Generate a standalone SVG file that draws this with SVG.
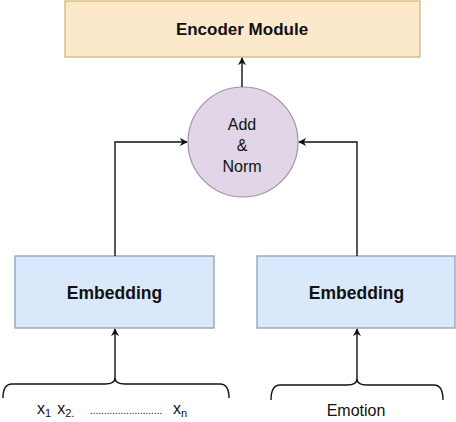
<svg xmlns="http://www.w3.org/2000/svg" width="456" height="422" viewBox="0 0 456 422">
<defs>
<style>
.t{font-family:"Liberation Sans",Arial,sans-serif;fill:#111;text-anchor:middle}
.b{font-weight:bold}
.ln{fill:none;stroke:#111;stroke-width:1.4}
.emb{fill:#dae8fc;stroke:#8497b8;stroke-width:1.2}
</style>
<marker id="ah" viewBox="0 0 10 10" refX="9" refY="5" markerWidth="8" markerHeight="8" markerUnits="userSpaceOnUse" orient="auto">
<path d="M0,0 L10,5 L0,10 L3,5 Z" fill="#111"/>
</marker>
</defs>
<rect width="456" height="422" fill="#fff"/>
<g id="encoder">
<rect x="65" y="1" width="355" height="56" fill="#fce9cc" stroke="#cdb46a" stroke-width="1.2"/>
<text class="t b" x="242" y="35" font-size="17">Encoder Module</text>
</g>
<g id="addnorm">
<circle cx="243" cy="142" r="55" fill="#e1d5e7" stroke="#9e95a3" stroke-width="1.2"/>
<text class="t" x="242" y="130" font-size="16">Add</text>
<text class="t" x="242" y="151" font-size="16">&amp;</text>
<text class="t" x="242" y="172" font-size="16">Norm</text>
</g>
<g id="embedding1">
<rect x="15" y="256" width="199" height="72" class="emb"/>
<text class="t b" x="114.5" y="299" font-size="17.5">Embedding</text>
</g>
<g id="embedding2">
<rect x="257" y="256" width="198" height="72" class="emb"/>
<text class="t b" x="356.5" y="299" font-size="17.5">Embedding</text>
</g>
<g id="inputs">
<text x="37" y="414" font-family="'Liberation Sans',Arial,sans-serif" font-size="16" fill="#111">x<tspan font-size="11" dy="3">1</tspan><tspan dy="-3" dx="6">x</tspan><tspan font-size="11" dy="3">2.</tspan></text>
<text x="90" y="414" font-family="'Liberation Sans',Arial,sans-serif" font-size="10" fill="#111">..........................</text>
<text x="173" y="414" font-family="'Liberation Sans',Arial,sans-serif" font-size="16" fill="#111">x<tspan font-size="11" dy="3">n</tspan></text>
</g>
<g id="emotion">
<text class="t" x="356" y="416" font-size="16">Emotion</text>
</g>
<g id="connectors">
<path class="ln" d="M3,398 Q3,384 12,384 L105,384 Q115,384 115,378 Q115,384 125,384 L220,384 Q229,384 229,398"/>
<path class="ln" d="M271,400 Q271,385 280,385 L347,385 Q357,385 357,379 Q357,385 367,385 L434,385 Q443,385 443,400"/>
<path class="ln" d="M115,380 L115,329" marker-end="url(#ah)"/>
<path class="ln" d="M357,380 L357,329" marker-end="url(#ah)"/>
<path class="ln" d="M115,256 L115,142 L187,142" marker-end="url(#ah)"/>
<path class="ln" d="M357,256 L357,142 L299,142" marker-end="url(#ah)"/>
<path class="ln" d="M242,87 L242,58" marker-end="url(#ah)"/>
</g>
</svg>
